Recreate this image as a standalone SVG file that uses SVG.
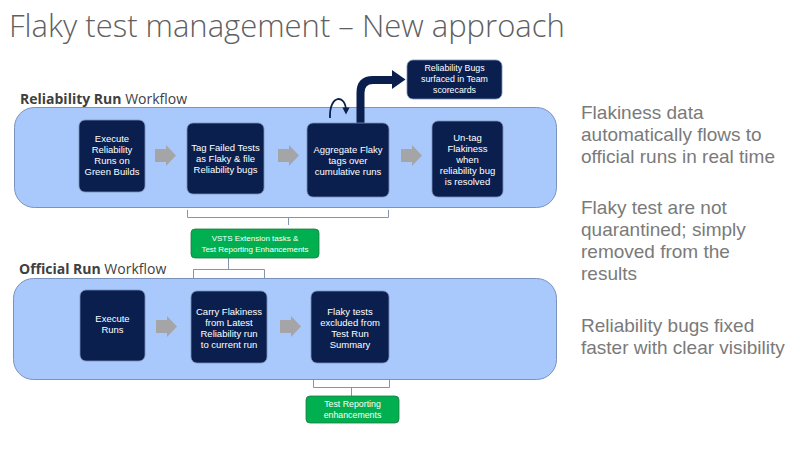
<svg xmlns="http://www.w3.org/2000/svg" width="800" height="450" viewBox="0 0 800 450">
<style>
.title{font-family:"Open Sans","Noto Sans",sans-serif;font-weight:300;font-size:31px;fill:#606060}
.hdr{font-family:"Open Sans","Noto Sans",sans-serif;font-size:14px;fill:#404040}
.side{font-family:"Liberation Sans","Arial",sans-serif;font-size:19px;fill:#7a7a7a}
.panel{fill:#a9c8fb;stroke:#7a93bd;stroke-width:1}
.box{fill:#0b1f4f;stroke:#7a8fb5;stroke-width:0.8}
.bt{font-family:"Liberation Sans","Arial",sans-serif;font-size:9.5px;fill:#ffffff;text-anchor:middle}
.st{font-family:"Liberation Sans","Arial",sans-serif;font-size:8.8px;fill:#ffffff;text-anchor:middle}
.gt{font-family:"Liberation Sans","Arial",sans-serif;font-size:8px;fill:#ffffff;text-anchor:middle}
.green{fill:#00b050;stroke:#1f7a3f;stroke-width:0.8}
.garrow{fill:#a5a5a8}
.brk{fill:none;stroke:#8594ad;stroke-width:1}
</style>
<defs>
<marker id="loopHead" viewBox="0 0 10 10" refX="5" refY="5" markerWidth="4" markerHeight="4" orient="auto">
<path d="M0,0 L10,5 L0,10 Z" fill="#0b1f4f"/>
</marker>
<path id="ga" d="M0,4 H11 V0 L21,10.5 L11,21 V17 H0 Z"/>
</defs>

<text class="title" x="9" y="37">Flaky test management – New approach</text>

<g id="side-text">
<text class="side" x="581" y="119">Flakiness data</text>
<text class="side" x="581" y="141">automatically flows to</text>
<text class="side" x="581" y="163">official runs in real time</text>
<text class="side" x="581" y="214">Flaky test are not</text>
<text class="side" x="581" y="236">quarantined; simply</text>
<text class="side" x="581" y="258">removed from the</text>
<text class="side" x="581" y="280">results</text>
<text class="side" x="581" y="332">Reliability bugs fixed</text>
<text class="side" x="581" y="354">faster with clear visibility</text>
</g>

<g id="reliability-panel">
<text class="hdr" x="20" y="104"><tspan font-weight="bold">Reliability Run</tspan> Workflow</text>
<rect class="panel" x="14.5" y="107.5" width="542" height="100" rx="20"/>
</g>

<g id="official-panel">
<text class="hdr" x="19" y="274"><tspan font-weight="bold">Official Run</tspan> Workflow</text>
<rect class="panel" x="13.5" y="278.5" width="543" height="101" rx="20"/>
</g>

<g id="connectors">
<use href="#ga" class="garrow" x="155" y="145"/>
<use href="#ga" class="garrow" x="278" y="145"/>
<use href="#ga" class="garrow" x="401" y="145"/>
<use href="#ga" class="garrow" x="156" y="316"/>
<use href="#ga" class="garrow" x="280" y="316"/>
<path d="M360.5,123 V93 Q360.5,80 373,80 H394" fill="none" stroke="#0b1f4f" stroke-width="8"/>
<polygon points="392,70 405.5,79.5 392,89" fill="#0b1f4f"/>
<path d="M330,118 C329,94 346,94 346,111" fill="none" stroke="#0b1f4f" stroke-width="1.8" marker-end="url(#loopHead)"/>
<path class="brk" d="M187.5,210 V217.5 H388.5 V210 M288.5,217.5 V225"/>
<path class="brk" d="M228.5,258 V269.5 M193.5,278 V269.5 H264.5 V278"/>
<path class="brk" d="M313.5,380 V387.5 H389.5 V380 M351.5,387.5 V396"/>
</g>

<g id="n-execute-reliability">
<rect class="box" x="79" y="120" width="66" height="72" rx="6"/>
<text class="bt" x="112" y="141.5">Execute</text>
<text class="bt" x="112" y="152.5">Reliability</text>
<text class="bt" x="112" y="163.5">Runs on</text>
<text class="bt" x="112" y="174.5">Green Builds</text>
</g>

<g id="n-tag-failed">
<rect class="box" x="187" y="123" width="77" height="71" rx="6"/>
<text class="bt" x="225.5" y="150.5">Tag Failed Tests</text>
<text class="bt" x="225.5" y="161.5">as Flaky &amp; file</text>
<text class="bt" x="225.5" y="172.5">Reliability bugs</text>
</g>

<g id="n-aggregate">
<rect class="box" x="307" y="123" width="82" height="74" rx="6"/>
<text class="bt" x="348" y="152.5">Aggregate Flaky</text>
<text class="bt" x="348" y="163.5">tags over</text>
<text class="bt" x="348" y="174.5">cumulative runs</text>
</g>

<g id="n-untag">
<rect class="box" x="432" y="121" width="71" height="76" rx="6"/>
<text class="bt" x="467.5" y="140.5">Un-tag</text>
<text class="bt" x="467.5" y="151.5">Flakiness</text>
<text class="bt" x="467.5" y="162.5">when</text>
<text class="bt" x="467.5" y="173.5">reliability bug</text>
<text class="bt" x="467.5" y="184.5">is resolved</text>
</g>

<g id="n-scorecards">
<rect class="box" x="407" y="60" width="95" height="39" rx="6"/>
<text class="st" x="454.5" y="71">Reliability Bugs</text>
<text class="st" x="454.5" y="82">surfaced in Team</text>
<text class="st" x="454.5" y="93">scorecards</text>
</g>

<g id="n-vsts">
<rect class="green" x="191" y="229" width="128" height="29" rx="4"/>
<text class="gt" x="255" y="241">VSTS Extension tasks &amp;</text>
<text class="gt" x="255" y="252">Test Reporting Enhancements</text>
</g>

<g id="n-execute-runs">
<rect class="box" x="80" y="290" width="65" height="71" rx="6"/>
<text class="bt" x="112.5" y="321.5">Execute</text>
<text class="bt" x="112.5" y="332.5">Runs</text>
</g>

<g id="n-carry">
<rect class="box" x="191" y="291" width="76" height="72" rx="6"/>
<text class="bt" x="229" y="314.5">Carry Flakiness</text>
<text class="bt" x="229" y="325.5">from Latest</text>
<text class="bt" x="229" y="336.5">Reliability run</text>
<text class="bt" x="229" y="347.5">to current run</text>
</g>

<g id="n-excluded">
<rect class="box" x="311" y="291" width="78" height="72" rx="6"/>
<text class="bt" x="350" y="314.5">Flaky tests</text>
<text class="bt" x="350" y="325.5">excluded from</text>
<text class="bt" x="350" y="336.5">Test Run</text>
<text class="bt" x="350" y="347.5">Summary</text>
</g>

<g id="n-test-reporting">
<rect class="green" x="306" y="396" width="93" height="27" rx="4"/>
<text class="st" x="352.5" y="407">Test Reporting</text>
<text class="st" x="352.5" y="418">enhancements</text>
</g>
</svg>
